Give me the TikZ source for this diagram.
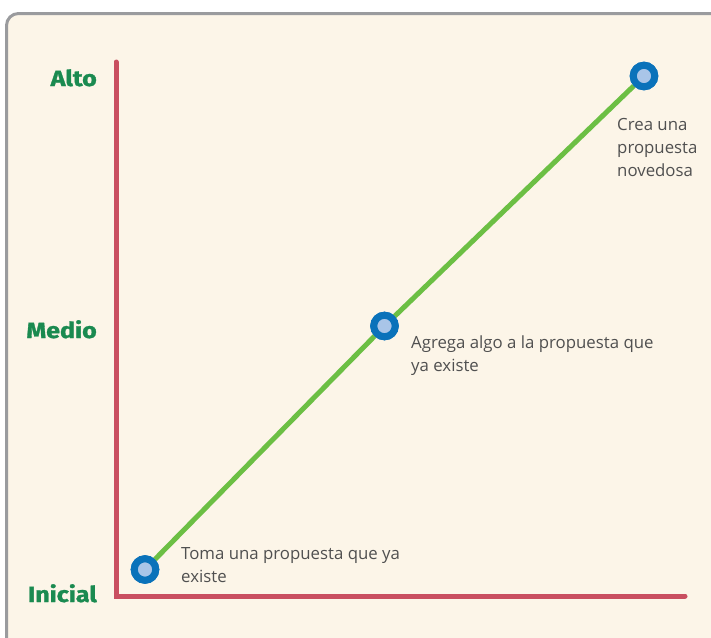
\documentclass[tikz,border=0pt]{standalone}
\usepackage{fontspec}
\setmainfont{Open Sans}
\newfontfamily\axisfont[FakeBold=1.2]{Fira Sans}
\definecolor{cream}{HTML}{FCF5E8}
\definecolor{framegray}{HTML}{9A9B9E}
\definecolor{axisred}{HTML}{C94F60}
\definecolor{linegreen}{HTML}{6CBF44}
\definecolor{ringblue}{HTML}{0A72BA}
\definecolor{dotblue}{HTML}{A9C5E8}
\definecolor{labelgreen}{HTML}{1A8A50}
\definecolor{textgray}{HTML}{505050}
\newcommand{\lvltext}[1]{\scalebox{1.14}[1]{#1}}
\begin{document}
\begin{tikzpicture}[x=1pt,y=-1pt,
  axis/.style={draw=axisred,line width=5pt,line cap=round},
  trend/.style={draw=linegreen,line width=5pt},
  dot/.style={circle,draw=ringblue,line width=7pt,fill=dotblue,minimum size=21.5pt,inner sep=0pt},
  levellabel/.style={anchor=base east,inner sep=0pt,text=labelgreen,font=\axisfont\bfseries\fontsize{22}{26}\selectfont},
  note/.style={anchor=north west,inner sep=0pt,align=left,text=textgray,font=\fontsize{16.8}{23}\selectfont}]
\useasboundingbox (0,0) rectangle (711,637);
\fill[white] (0,0) rectangle (711,637);
\draw[framegray,line width=3pt,fill=cream,rounded corners=12pt] (6.5,13.5) rectangle (730,660);
% axes
\coordinate (top) at (116,62);
\coordinate (origin) at (116,596);
\coordinate (right) at (685,596);
\draw[axis] (top) -- (origin) -- (right);
% points
\node[dot] (p1) at (145,569.5) {};
\node[dot] (p2) at (384.5,326) {};
\node[dot] (p3) at (644,76) {};
\draw[trend] (p1) -- (p2) -- (p3);
\node[dot] at (p1) {};
\node[dot] at (p2) {};
\node[dot] at (p3) {};
% level labels
\node[levellabel] (alto) at (97,86) {\lvltext{Alto}};
\node[levellabel] (medio) at (97,338) {\lvltext{Medio}};
\node[levellabel] (inicial) at (97,602) {\lvltext{Inicial}};
% notes
\node[note] (n3) at (617,118) {Crea una\\propuesta\\novedosa};
\node[note] (n2) at (411,336) {Agrega algo a la propuesta que\\ya existe};
\node[note] (n1) at (181,547) {Toma una propuesta que ya\\existe};
\end{tikzpicture}
\end{document}
